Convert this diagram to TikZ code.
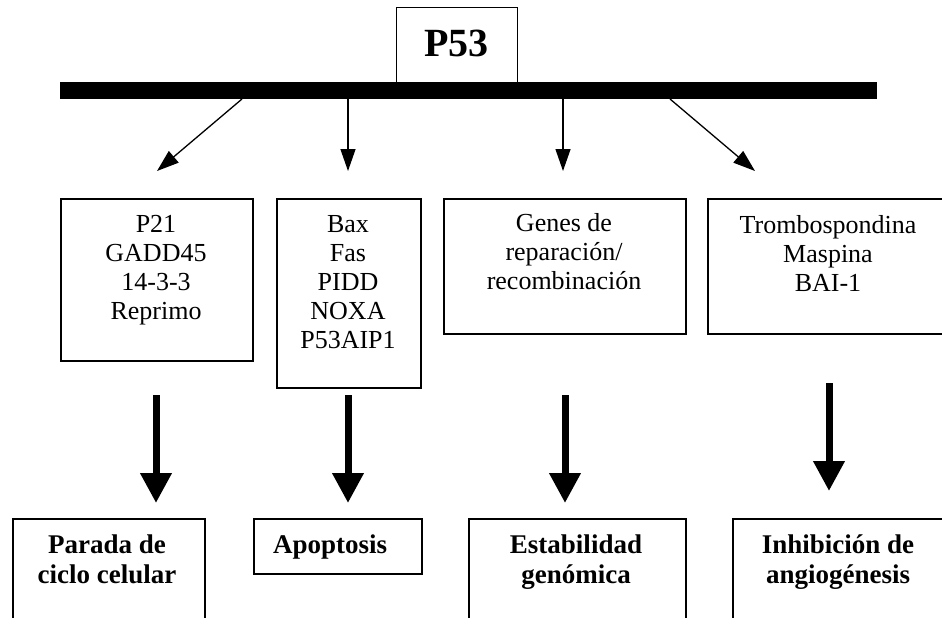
\documentclass[tikz,border=0pt]{standalone}
\usepackage{fontspec}
\setmainfont{Liberation Serif}
\usetikzlibrary{arrows.meta}
\begin{document}
\begin{tikzpicture}[x=1pt,y=-1pt,
  box/.style={draw,line width=1.7pt,inner sep=0pt,anchor=north west},
  gene/.style={font=\fontsize{26}{29}\selectfont,align=center,inner sep=0pt,anchor=north},
  effect/.style={font=\fontsize{27}{30}\selectfont\bfseries,align=center,inner sep=0pt,anchor=north},
  thinarrow/.style={line width=1.3pt,-{Triangle[length=22pt,width=15pt]}},
  thickarrow/.style={line width=7pt,-{Triangle[length=30pt,width=30pt]}}]
\useasboundingbox (0,0) rectangle (942,625);
\clip (0,0) rectangle (942,617);
% P53 box and bar
\node[draw,line width=1.2pt,inner sep=0pt,minimum width=121pt,minimum height=75pt,anchor=north west] (p53box) at (396,7) {};
\node[font=\fontsize{40}{44}\selectfont\bfseries,inner sep=0pt,anchor=base] (p53) at (456.5,56) {P53};
\node[fill=black,inner sep=0pt,minimum width=817pt,minimum height=17pt,anchor=north west] (bar) at (60,82) {};
% middle boxes
\node[box,minimum width=192pt,minimum height=162pt] (g1) at (60,198) {};
\node[box,minimum width=144pt,minimum height=189pt] (g2) at (276,198) {};
\node[box,minimum width=242pt,minimum height=135pt] (g3) at (443,198) {};
\node[box,minimum width=243pt,minimum height=135pt] (g4) at (707,198) {};
\node[gene] (t1) at (156,215.5) {P21\\GADD45\\14-3-3\hspace*{14pt}\\Reprimo};
\node[gene] (t2) at (348,215.5) {Bax\\Fas\\PIDD\\NOXA\\P53AIP1};
\node[gene] (t3) at (564,213) {Genes de\\reparación/\\recombinación};
\node[gene] (t4) at (828,215.5) {Trombospondina\\Maspina\\BAI-1};
% thin arrows
\coordinate (s1) at (242,99); \coordinate (e1) at (157,171);
\coordinate (s2) at (348,99); \coordinate (e2) at (348,171);
\coordinate (s3) at (563,99); \coordinate (e3) at (563,171);
\coordinate (s4) at (670,99); \coordinate (e4) at (755,171);
\draw[thinarrow] (s1) -- (e1);
\draw[thinarrow] (s2) -- (e2);
\draw[thinarrow] (s3) -- (e3);
\draw[thinarrow] (s4) -- (e4);
% thick arrows
\coordinate (a1) at (156,395); \coordinate (b1) at (156,503);
\coordinate (a2) at (348,395); \coordinate (b2) at (348,503);
\coordinate (a3) at (565,395); \coordinate (b3) at (565,503);
\coordinate (a4) at (829,383); \coordinate (b4) at (829,491);
\draw[thickarrow] (a1) -- (b1);
\draw[thickarrow] (a2) -- (b2);
\draw[thickarrow] (a3) -- (b3);
\draw[thickarrow] (a4) -- (b4);
% bottom boxes
\node[box,minimum width=192pt,minimum height=130pt] (r1) at (12,518) {};
\node[box,minimum width=168pt,minimum height=55pt] (r2) at (253,518) {};
\node[box,minimum width=217pt,minimum height=130pt] (r3) at (468,518) {};
\node[box,minimum width=230pt,minimum height=130pt] (r4) at (732,518) {};
\node[effect] (u1) at (107,534.5) {Parada de\\ciclo celular};
\node[effect,anchor=north west] (u2) at (273,534.5) {Apoptosis};
\node[effect] (u3) at (576,534.5) {Estabilidad\\genómica};
\node[effect] (u4) at (838,534.5) {Inhibición de\\angiogénesis};
\end{tikzpicture}
\end{document}
